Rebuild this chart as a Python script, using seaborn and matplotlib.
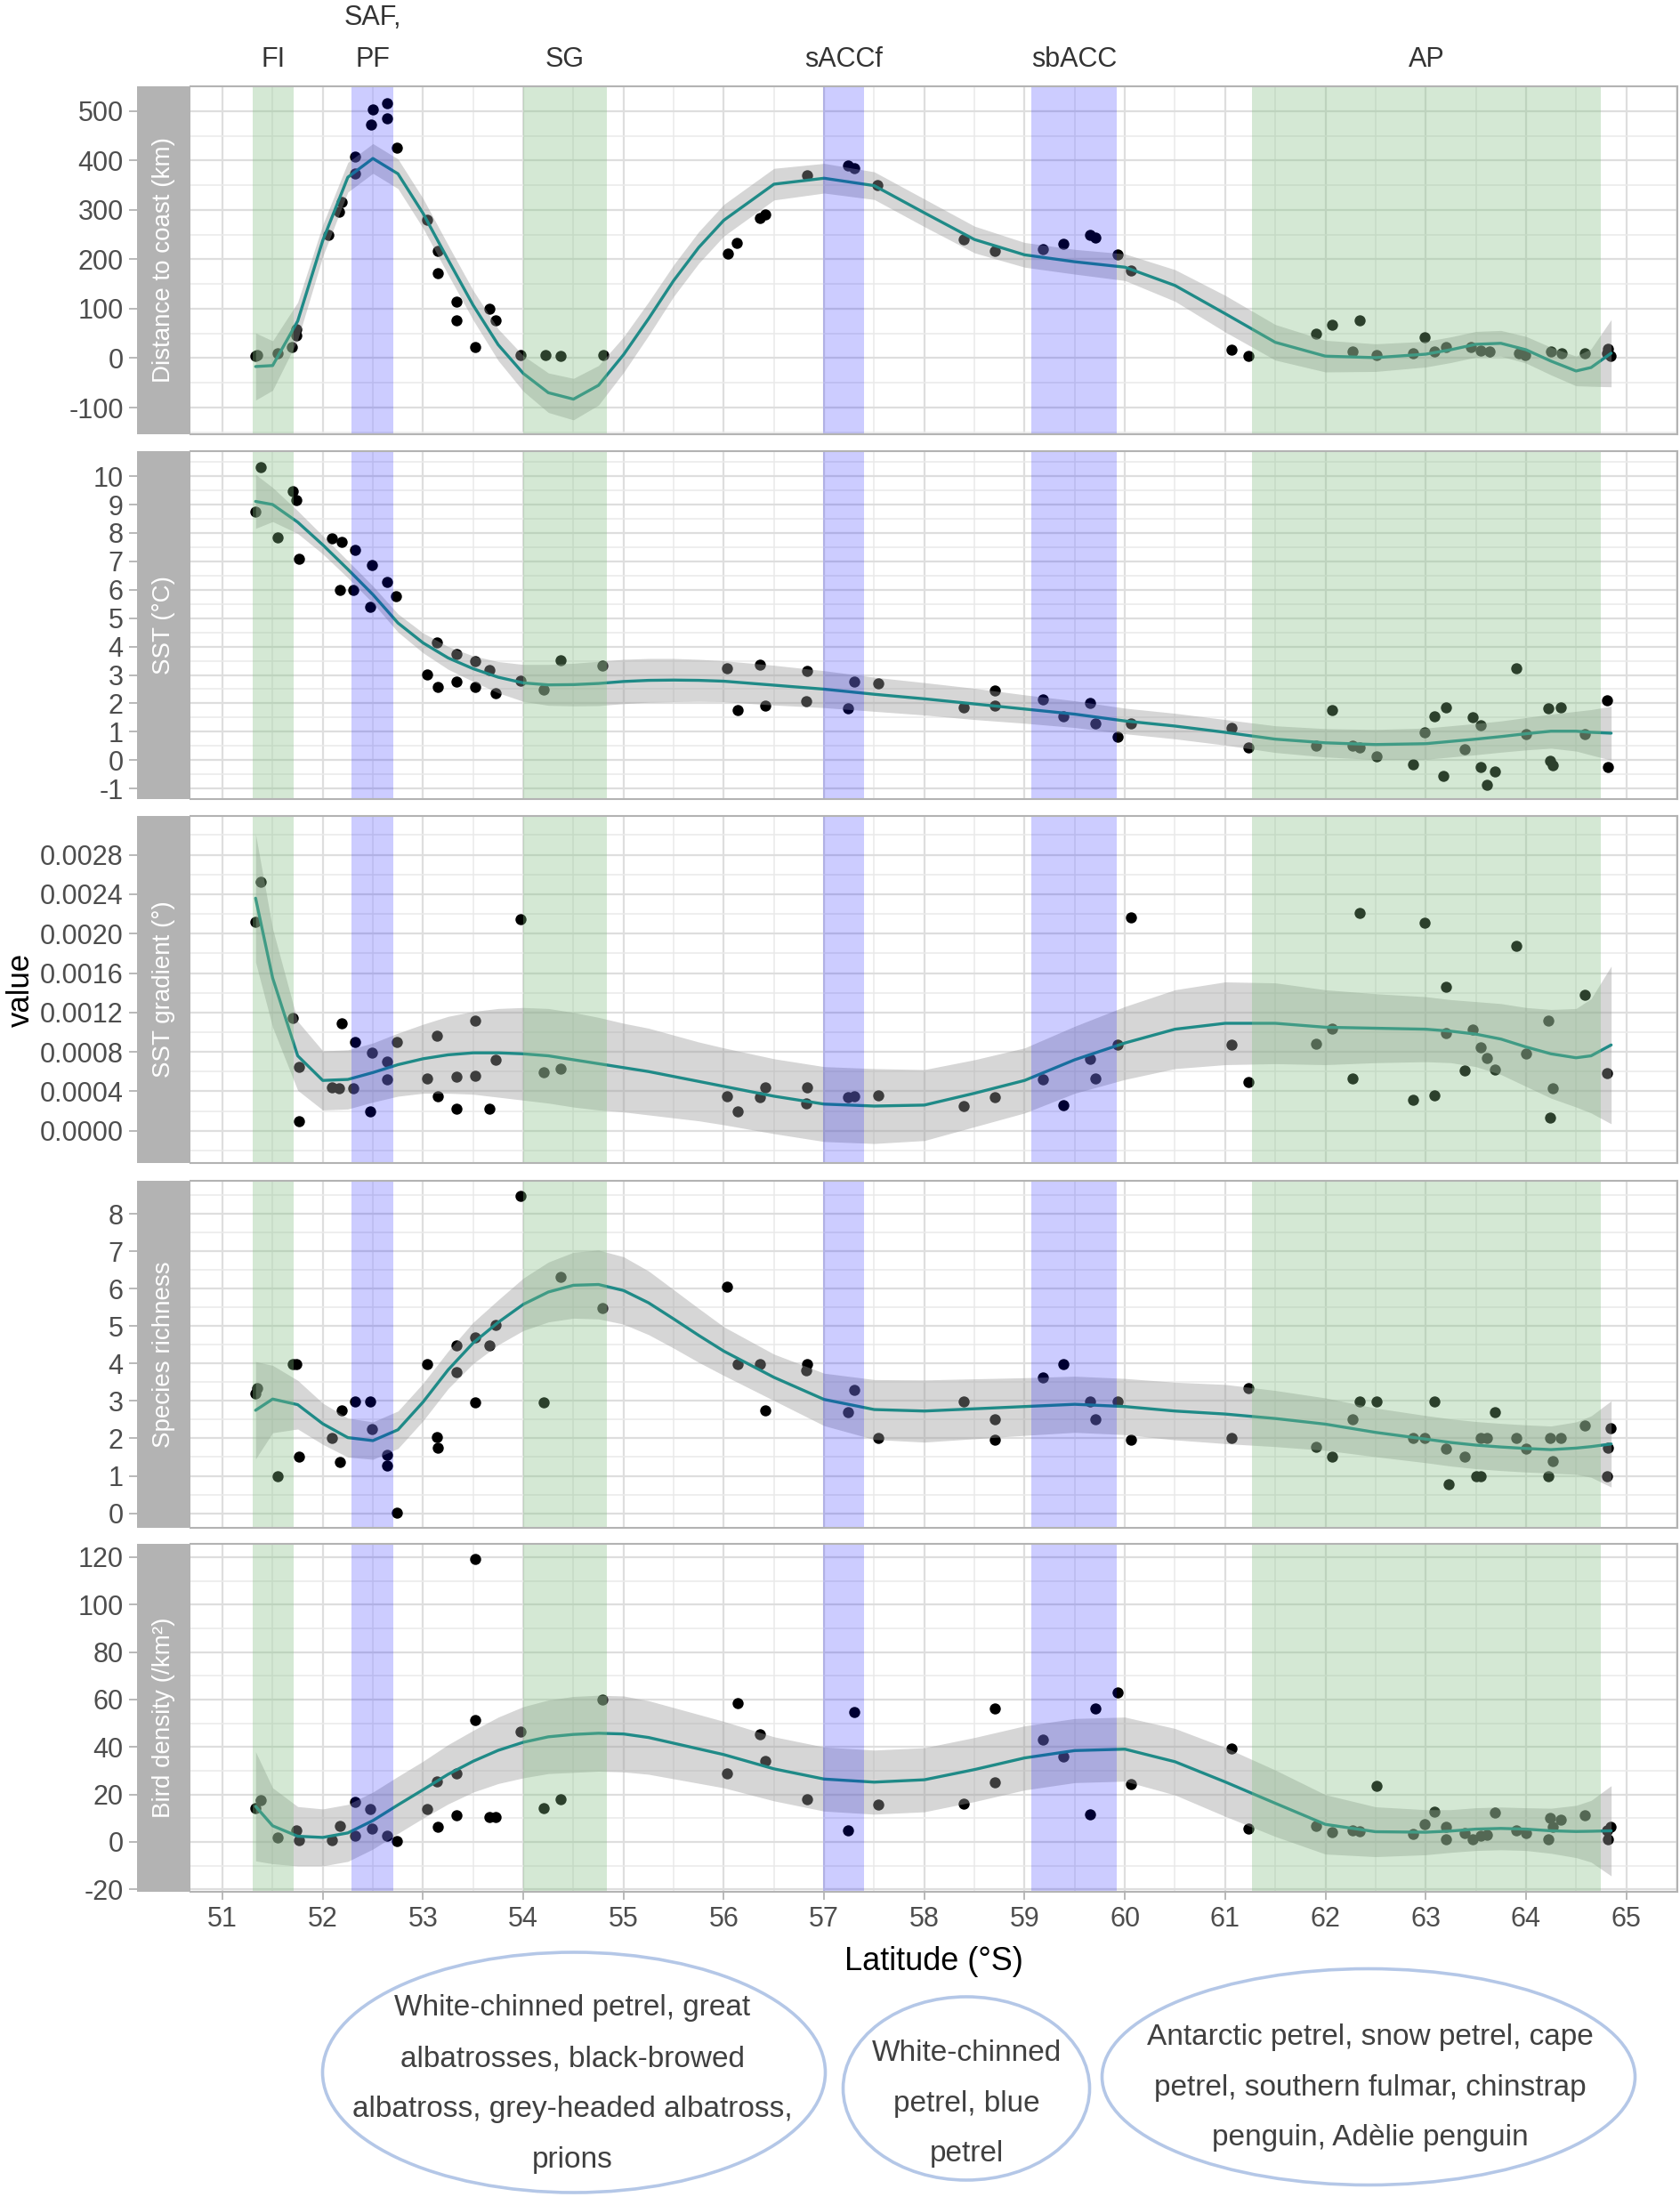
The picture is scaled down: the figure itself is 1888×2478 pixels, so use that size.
import numpy as np
import pandas as pd
import matplotlib
matplotlib.use("Agg")
import matplotlib.pyplot as plt
import seaborn as sns
from matplotlib.patches import Ellipse, Rectangle
from matplotlib.ticker import MultipleLocator, FixedLocator, FormatStrFormatter
import matplotlib.transforms as mtransforms

# ---------------- data ----------------
# Distance to coast (km)
lat_dist = [51.33, 51.35, 51.55, 51.69, 51.74, 51.74, 52.06, 52.16, 52.19, 52.32, 52.32, 52.48, 52.50,
            52.64, 52.64, 52.74, 53.04, 53.15, 53.15, 53.33, 53.33, 53.52, 53.66, 53.72, 53.97, 54.22,
            54.37, 54.80, 56.04, 56.13, 56.36, 56.41, 56.83, 57.24, 57.30, 57.53, 58.39, 58.70, 59.18,
            59.39, 59.65, 59.71, 59.93, 60.06, 61.06, 61.23, 61.91, 62.07, 62.27, 62.34, 62.51, 62.87,
            62.99, 63.09, 63.20, 63.45, 63.55, 63.64, 63.93, 63.99, 64.25, 64.36, 64.59, 64.81, 64.84, 64.82]
val_dist = [4, 7, 10, 23, 46, 58, 250, 297, 316, 373, 407, 473, 503,
            486, 515, 425, 280, 217, 172, 115, 76, 22, 100, 76, 7, 6,
            4, 6, 211, 234, 283, 290, 370, 389, 384, 350, 241, 217, 220,
            231, 250, 244, 210, 178, 17, 4, 49, 67, 13, 76, 7, 10,
            43, 14, 22, 22, 16, 13, 10, 7, 13, 10, 9, 10, 4, 19]

# SST (°C)
lat_sst = [51.33, 51.38, 51.55, 51.70, 51.74, 51.76, 52.09, 52.19, 52.17, 52.30, 52.32, 52.47, 52.49,
           52.64, 52.73, 53.04, 53.14, 53.15, 53.33, 53.33, 53.52, 53.52, 53.66, 53.72, 53.97, 54.20,
           54.37, 54.79, 56.03, 56.14, 56.36, 56.41, 56.83, 56.82, 57.24, 57.30, 57.54, 58.39, 58.70,
           58.70, 59.18, 59.39, 59.65, 59.71, 59.93, 60.06, 61.06, 61.23, 61.91, 62.07, 62.27, 62.34,
           62.51, 62.87, 62.99, 63.09, 63.20, 63.18, 63.39, 63.47, 63.55, 63.55, 63.61, 63.69, 63.90,
           64.00, 64.22, 64.24, 64.27, 64.35, 64.59, 64.81, 64.82]
val_sst = [8.75, 10.31, 7.84, 9.48, 9.16, 7.08, 7.81, 7.70, 5.98, 5.98, 7.39, 5.41, 6.87,
           6.29, 5.77, 3.01, 4.15, 2.59, 3.74, 2.75, 3.48, 2.59, 3.16, 2.35, 2.80, 2.48,
           3.53, 3.32, 3.22, 1.75, 3.37, 1.91, 3.13, 2.07, 1.83, 2.75, 2.69, 1.86, 2.45,
           1.91, 2.14, 1.54, 2.01, 1.28, 0.81, 1.28, 1.13, 0.45, 0.50, 1.77, 0.50, 0.45,
           0.14, -0.16, 0.99, 1.54, 1.86, -0.54, 0.40, 1.51, 1.23, -0.23, -0.86, -0.39, 3.22,
           0.92, 1.81, -0.02, -0.18, 1.86, 0.92, 2.10, -0.23]

# SST gradient (°)
lat_grad = [51.33, 51.38, 51.70, 51.76, 51.76, 52.09, 52.16, 52.19, 52.30, 52.32, 52.47, 52.49, 52.64,
            52.64, 52.74, 53.04, 53.14, 53.15, 53.33, 53.33, 53.52, 53.52, 53.66, 53.72, 53.97, 54.20,
            54.37, 56.03, 56.14, 56.36, 56.41, 56.83, 56.82, 57.24, 57.30, 57.54, 58.39, 58.70, 59.18,
            59.39, 59.65, 59.71, 59.93, 60.06, 61.06, 61.23, 61.91, 62.07, 62.27, 62.34, 62.87, 62.99,
            63.09, 63.20, 63.20, 63.39, 63.47, 63.55, 63.61, 63.69, 63.90, 64.00, 64.22, 64.24, 64.27,
            64.59, 64.81]
val_grad = [0.00212, 0.00253, 0.00114, 0.00065, 0.00010, 0.00044, 0.00043, 0.00109, 0.00043, 0.00090,
            0.00020, 0.00079, 0.00070, 0.00052, 0.00090, 0.00053, 0.00096, 0.00035, 0.00055, 0.00022,
            0.00112, 0.00056, 0.00022, 0.00072, 0.00215, 0.00059, 0.00063, 0.00035, 0.00020, 0.00034,
            0.00044, 0.00044, 0.00028, 0.00034, 0.00035, 0.00036, 0.00025, 0.00034, 0.00052, 0.00026,
            0.00073, 0.00053, 0.00087, 0.00216, 0.00087, 0.00049, 0.00088, 0.00104, 0.00053, 0.00221,
            0.00031, 0.00211, 0.00036, 0.00146, 0.00099, 0.00061, 0.00103, 0.00085, 0.00074, 0.00062,
            0.00188, 0.00078, 0.00112, 0.00013, 0.00043, 0.00138, 0.00058]

# Species richness
lat_rich = [51.33, 51.35, 51.55, 51.70, 51.74, 51.76, 52.09, 52.17, 52.19, 52.32, 52.47, 52.49, 52.64,
            52.64, 52.74, 53.04, 53.14, 53.15, 53.33, 53.33, 53.52, 53.52, 53.66, 53.72, 53.97, 54.20,
            54.37, 54.79, 56.03, 56.14, 56.36, 56.41, 56.83, 56.82, 57.24, 57.30, 57.54, 58.39, 58.70,
            58.70, 59.18, 59.39, 59.65, 59.71, 59.93, 60.06, 61.06, 61.23, 61.91, 62.07, 62.27, 62.34,
            62.51, 62.87, 62.99, 63.09, 63.20, 63.23, 63.39, 63.50, 63.55, 63.55, 63.61, 63.69, 63.90,
            64.00, 64.22, 64.24, 64.27, 64.35, 64.59, 64.81, 64.82, 64.84]
val_rich = [3.19, 3.33, 0.98, 3.98, 3.98, 1.52, 2.00, 1.36, 2.75, 2.99, 2.99, 2.25, 1.56,
            1.28, 0.02, 3.98, 2.04, 1.76, 4.49, 3.78, 4.69, 2.96, 4.49, 5.02, 8.48, 2.96,
            6.32, 5.48, 6.04, 3.98, 3.98, 2.75, 3.98, 3.82, 2.71, 3.30, 2.00, 2.99, 2.51,
            1.97, 3.62, 3.98, 2.99, 2.51, 2.99, 1.97, 2.00, 3.34, 1.78, 1.52, 2.51, 2.99,
            2.99, 2.00, 2.00, 2.99, 1.72, 0.77, 1.52, 0.98, 0.98, 2.00, 2.00, 2.71, 2.00,
            1.72, 0.98, 2.00, 1.40, 2.00, 2.35, 0.98, 1.76, 2.27]

# Bird density (/km²)
lat_dens = [51.33, 51.38, 51.55, 51.74, 51.76, 52.09, 52.17, 52.32, 52.32, 52.47, 52.49, 52.64, 52.74,
            53.04, 53.14, 53.15, 53.33, 53.33, 53.52, 53.52, 53.66, 53.72, 53.97, 54.20, 54.37, 54.79,
            56.03, 56.14, 56.36, 56.41, 56.83, 57.24, 57.30, 57.54, 58.39, 58.70, 58.70, 59.18, 59.39,
            59.65, 59.71, 59.93, 60.06, 61.06, 61.23, 61.91, 62.07, 62.27, 62.34, 62.51, 62.87, 62.99,
            63.09, 63.20, 63.20, 63.39, 63.47, 63.55, 63.61, 63.69, 63.90, 64.00, 64.22, 64.24, 64.27,
            64.35, 64.59, 64.81, 64.82, 64.84]
val_dens = [14.3, 17.5, 1.9, 5.0, 0.6, 0.6, 6.9, 16.8, 2.7, 13.7, 5.6, 2.5, 0.2,
            13.7, 25.6, 6.5, 28.7, 11.2, 119.1, 51.2, 10.6, 10.6, 46.4, 14.3, 18.1, 60.1,
            28.7, 58.4, 45.5, 34.3, 18.1, 4.7, 54.6, 15.6, 16.2, 56.4, 25.2, 43.0, 35.9,
            11.5, 56.4, 63.0, 24.3, 39.3, 5.6, 6.9, 4.0, 4.7, 4.4, 23.5, 3.5, 7.5,
            12.7, 1.2, 6.2, 3.7, 1.2, 2.5, 3.1, 12.5, 5.0, 3.7, 1.2, 10.0, 6.2,
            9.4, 11.2, 5.0, 1.2, 6.2]

# smoother (fitted curve and half-width of its confidence band)
smooth_lat = [51.33, 51.5, 51.75, 52.0, 52.25, 52.5, 52.75, 53.0, 53.25, 53.5, 53.75, 54.0, 54.25, 54.5,
              54.75, 55.0, 55.25, 55.5, 55.75, 56.0, 56.5, 57.0, 57.5, 58.0, 58.5, 59.0, 59.5, 60.0,
              60.5, 61.0, 61.5, 62.0, 62.5, 63.0, 63.25, 63.5, 63.75, 64.0, 64.25, 64.5, 64.65, 64.85]
fit_dist = [-17, -15, 75, 238, 366, 404, 373, 293, 199, 107, 27, -31, -70, -83,
            -55, 7, 80, 157, 224, 279, 352, 364, 349, 294, 240, 209, 195, 184,
            147, 90, 32, 4, 1, 8, 17, 28, 30, 17, -6, -26, -19, 10]
ci_dist = [68, 50, 38, 32, 30, 30, 30, 30, 30, 30, 32, 36, 40, 42,
           40, 36, 34, 32, 32, 32, 32, 30, 28, 28, 27, 25, 25, 27,
           32, 37, 36, 32, 28, 26, 26, 26, 26, 27, 28, 30, 38, 68]
fit_sst = [9.11, 9.0, 8.38, 7.58, 6.72, 5.83, 4.83, 4.13, 3.6, 3.22, 2.92, 2.72, 2.65, 2.66,
           2.7, 2.77, 2.81, 2.82, 2.81, 2.78, 2.64, 2.5, 2.32, 2.16, 1.98, 1.8, 1.62, 1.38,
           1.2, 0.98, 0.74, 0.61, 0.55, 0.58, 0.66, 0.74, 0.83, 0.93, 1.02, 1.02, 0.98, 0.95]
ci_sst = [0.95, 0.6, 0.4, 0.32, 0.3, 0.3, 0.32, 0.35, 0.4, 0.45, 0.55, 0.65, 0.72, 0.75,
          0.78, 0.78, 0.77, 0.76, 0.74, 0.72, 0.7, 0.65, 0.6, 0.57, 0.55, 0.5, 0.47, 0.45,
          0.45, 0.45, 0.47, 0.5, 0.53, 0.55, 0.55, 0.55, 0.55, 0.57, 0.6, 0.7, 0.8, 0.95]
fit_grad = [0.00236, 0.00155, 0.00076, 0.00051, 0.00052, 0.00059, 0.00067, 0.00073, 0.00077, 0.00079,
            0.00079, 0.00078, 0.00076, 0.00072, 0.00068, 0.00064, 0.00060, 0.00055, 0.00050, 0.00045,
            0.00035, 0.00027, 0.00025, 0.00026, 0.00038, 0.00051, 0.00072, 0.00089, 0.00103, 0.00109,
            0.00109, 0.00105, 0.00104, 0.00103, 0.00101, 0.00098, 0.00093, 0.00085, 0.00078, 0.00074,
            0.00076, 0.00087]
ci_grad = [0.00065, 0.00050, 0.00035, 0.00030, 0.00030, 0.00030, 0.00032, 0.00035, 0.00039, 0.00042,
           0.00045, 0.00047, 0.00048, 0.00048, 0.00047, 0.00045, 0.00044, 0.00042, 0.00040, 0.00039,
           0.00038, 0.00038, 0.00038, 0.00036, 0.00034, 0.00033, 0.00034, 0.00037, 0.00040, 0.00042,
           0.00041, 0.00038, 0.00035, 0.00033, 0.00032, 0.00033, 0.00036, 0.00040, 0.00045, 0.00050,
           0.00058, 0.00080]
fit_rich = [2.75, 3.05, 2.9, 2.39, 2.02, 1.94, 2.23, 2.97, 3.83, 4.55, 5.1, 5.58, 5.91, 6.09,
            6.11, 5.95, 5.62, 5.19, 4.75, 4.33, 3.63, 3.04, 2.77, 2.73, 2.79, 2.85, 2.91, 2.85,
            2.73, 2.65, 2.53, 2.38, 2.16, 1.98, 1.89, 1.82, 1.77, 1.73, 1.70, 1.74, 1.78, 1.85]
ci_rich = [1.3, 0.9, 0.65, 0.55, 0.52, 0.5, 0.5, 0.5, 0.5, 0.55, 0.6, 0.7, 0.8, 0.88,
           0.92, 0.9, 0.85, 0.78, 0.72, 0.65, 0.62, 0.7, 0.8, 0.83, 0.8, 0.77, 0.75, 0.75,
           0.77, 0.79, 0.75, 0.7, 0.65, 0.63, 0.63, 0.63, 0.63, 0.63, 0.63, 0.7, 0.82, 1.15]
fit_dens = [15.0, 6.8, 2.4, 1.9, 3.8, 9.0, 15.6, 22.0, 28.5, 34.0, 38.6, 42.0, 44.3, 45.3,
            45.8, 45.5, 44.0, 41.6, 39.2, 36.8, 30.8, 26.5, 25.2, 26.2, 30.5, 35.4, 38.5, 39.1,
            33.8, 25.3, 16.3, 7.4, 4.3, 4.1, 4.6, 5.4, 5.7, 5.4, 4.7, 4.4, 4.5, 4.7]
ci_dens = [23, 16, 12.5, 12, 12, 12, 12, 12, 12.5, 13, 14, 15, 15.5, 16,
           16, 16, 15.5, 15, 14.5, 14, 13.5, 13.5, 13.5, 13.5, 13.5, 13.5, 13.5, 13.5,
           14, 14.5, 14, 12.5, 10.5, 9.5, 9, 9, 9, 9, 9.5, 11, 13, 19]

panel_titles = ["Distance to coast (km)", "SST (°C)", "SST gradient (°)",
                "Species richness", "Bird density (/km²)"]

# frontal zones / regions
region_names = ["FI", "SAF,\nPF", "SG", "sACCf", "sbACC", "AP"]
region_start = [51.30, 52.29, 54.00, 56.99, 59.07, 61.27]
region_end = [51.71, 52.70, 54.83, 57.40, 59.92, 64.75]
region_kind = ["green", "blue", "green", "blue", "blue", "green"]

ellipse_texts = ["White-chinned petrel, great\nalbatrosses, black-browed\nalbatross, grey-headed albatross,\nprions",
                 "White-chinned\npetrel, blue\npetrel",
                 "Antarctic petrel, snow petrel, cape\npetrel, southern fulmar, chinstrap\npenguin, Adèlie penguin"]

# ---------------- style ----------------
sns.set_theme(style="white")
plt.rcParams['font.family'] = ['Liberation Sans', 'DejaVu Sans']
plt.rcParams['axes.unicode_minus'] = False

W, H = 1888, 2478
fig = plt.figure(figsize=(W / 100, H / 100), dpi=100)
fig.patch.set_facecolor("white")

TEAL = "#1F8A87"
BAND_COL = {"green": ("#82BE82", 0.34), "blue": ("#0000FF", 0.2)}
GRID_MAJ = "#DEDEDE"
GRID_MIN = "#EAEAEA"
BORDER = "#B3B3B3"
TICKCOL = "#4D4D4D"

PX_LEFT, PX_RIGHT = 214, 1885
panel_px = [(97, 488), (507, 898), (917, 1307), (1327, 1717), (1735, 2126)]
ylims = [(-154, 550), (-1.37, 10.88), (-0.000328, 0.003194), (-0.39, 8.88), (-21, 125.6)]
yticks = [np.arange(-100, 501, 100), np.arange(-1, 11, 1), np.arange(0, 0.00281, 0.0004),
          np.arange(0, 9, 1), np.arange(-20, 121, 20)]
yminor = [np.arange(-150, 551, 50), np.arange(-1.5, 11, 0.5), np.arange(-0.0002, 0.0032, 0.0002),
          np.arange(-0.5, 9, 0.5), np.arange(-20, 126, 10)]
yfmt = ['%g', '%g', '%.4f', '%g', '%g']

point_lats = [lat_dist, lat_sst, lat_grad, lat_rich, lat_dens]
point_vals = [val_dist, val_sst, val_grad, val_rich, val_dens]
fits = [fit_dist, fit_sst, fit_grad, fit_rich, fit_dens]
cis = [ci_dist, ci_sst, ci_grad, ci_rich, ci_dens]

axes = []
for i in range(5):
    top, bot = panel_px[i]
    ax = fig.add_axes([PX_LEFT / W, 1 - bot / H, (PX_RIGHT - PX_LEFT) / W, (bot - top) / H])
    axes.append(ax)
    ax.set_facecolor("white")
    ax.set_xlim(50.68, 65.51)
    ax.set_ylim(*ylims[i])
    ax.xaxis.set_major_locator(MultipleLocator(1))
    ax.xaxis.set_minor_locator(MultipleLocator(0.5))
    ax.yaxis.set_major_locator(FixedLocator(yticks[i]))
    ax.yaxis.set_minor_locator(FixedLocator(yminor[i]))
    ax.yaxis.set_major_formatter(FormatStrFormatter(yfmt[i]))
    ax.grid(which='major', color=GRID_MAJ, lw=1.6)
    ax.grid(which='minor', color=GRID_MIN, lw=1.1)
    ax.set_axisbelow(True)

    df = pd.DataFrame({"lat": point_lats[i], "value": point_vals[i]})
    sns.scatterplot(data=df, x="lat", y="value", ax=ax, color="black", s=80,
                    linewidth=0, zorder=2, legend=False)
    sm = pd.DataFrame({"lat": smooth_lat, "fit": fits[i], "ci": cis[i]})
    ax.fill_between(sm["lat"], sm["fit"] - sm["ci"], sm["fit"] + sm["ci"],
                    color="#999999", alpha=0.4, lw=0, zorder=3)
    sns.lineplot(data=sm, x="lat", y="fit", ax=ax, color=TEAL, lw=2.4, zorder=4, legend=False)
    for a, b, k in zip(region_start, region_end, region_kind):
        c, al = BAND_COL[k]
        ax.axvspan(a, b, color=c, alpha=al, lw=0, zorder=5)

    ax.set_xlabel("")
    ax.set_ylabel("")
    for s in ["top", "right", "bottom"]:
        ax.spines[s].set_color(BORDER)
        ax.spines[s].set_linewidth(1.5)
        ax.spines[s].set_zorder(6)
    ax.spines["left"].set_position(("outward", 43.2))
    ax.spines["left"].set_visible(False)
    ax.tick_params(axis='y', which='major', left=True, length=6.5, width=1.3, color=BORDER,
                   labelsize=22, labelcolor=TICKCOL, pad=4.5, direction='out')
    ax.tick_params(axis='y', which='minor', left=False, length=0)
    if i < 4:
        ax.tick_params(axis='x', which='both', bottom=False, labelbottom=False, length=0)
    else:
        ax.tick_params(axis='x', which='major', bottom=True, length=6.5, width=1.3, color=BORDER,
                       labelsize=22, labelcolor=TICKCOL, pad=5, direction='out')
        ax.tick_params(axis='x', which='minor', bottom=False, length=0)

    # strip on the left
    fig.add_artist(Rectangle((154 / W, 1 - bot / H), (PX_LEFT - 154) / W, (bot - top) / H,
                             transform=fig.transFigure, facecolor="#B3B3B3", edgecolor="none"))
    fig.text(184 / W, 1 - (top + bot) / 2 / H, panel_titles[i], rotation=90, ha='center',
             va='center', color='white', fontsize=20)

# region labels at top
trans = mtransforms.blended_transform_factory(axes[0].transData, fig.transFigure)
for name, a, b in zip(region_names, region_start, region_end):
    axes[0].text((a + b) / 2, 1 - 82 / H, name, transform=trans, ha='center', va='bottom',
                 fontsize=22, color="#333333", linespacing=1.75)

# axis titles
fig.text(23 / W, 1 - 1112 / H, "value", rotation=90, ha='center', va='center',
         fontsize=25, color="black")
fig.text((PX_LEFT + PX_RIGHT) / 2 / W, 1 - 2204 / H, "Latitude (°S)", ha='center', va='center',
         fontsize=26, color="black")

# bottom ellipses with species groups
ax_o = fig.add_axes([0, 0, 1, 1])
ax_o.set_xlim(0, W)
ax_o.set_ylim(H, 0)
ax_o.axis('off')
ax_o.patch.set_alpha(0)
ell_centers = [(645, 2329), (1086, 2347), (1538, 2334)]
ell_sizes = [(565, 270), (277, 206), (599, 243)]
text_centers = [(643, 2342), (1086, 2364), (1540, 2346)]
for (cx, cy), (ew, eh), (tx, ty), txt in zip(ell_centers, ell_sizes, text_centers, ellipse_texts):
    ax_o.add_patch(Ellipse((cx, cy), ew, eh, fill=False, edgecolor="#B4C7E7", lw=2.6))
    ax_o.text(tx, ty, txt, ha='center', va='center', fontsize=24, color="#404040",
              linespacing=2.08)

fig.savefig("out.png", dpi=100, facecolor="white")
